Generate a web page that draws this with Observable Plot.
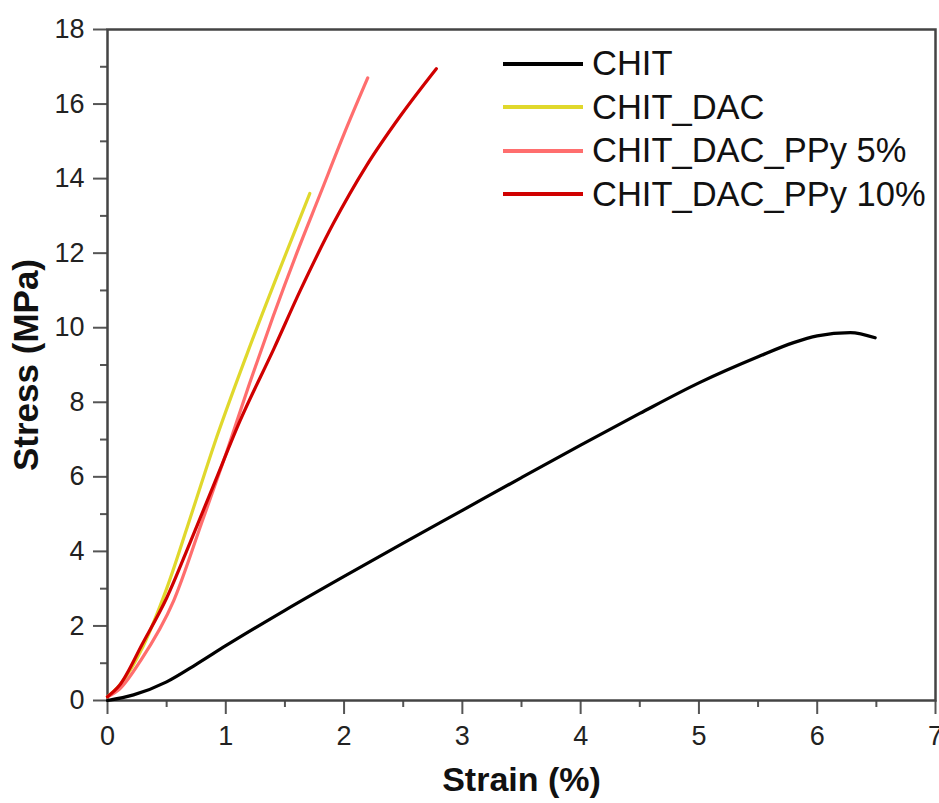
<!DOCTYPE html>
<html>
<head>
<meta charset="utf-8">
<script src="https://cdn.jsdelivr.net/npm/d3@7"></script>
<script src="https://cdn.jsdelivr.net/npm/@observablehq/plot@0.6"></script>
<style>
  body { margin: 0; background: #fff; }
  #wrap { position: relative; width: 939px; height: 803px; font-family: "Liberation Sans", Arial, sans-serif; }
  #legend { position: absolute; left: 503px; top: 42px; }
  .row { display: flex; align-items: center; height: 43.5px; }
  .sw { width: 80px; height: 4px; margin-right: 9px; }
  .lab { font-size: 34.5px; color: #111; white-space: nowrap; }
</style>
</head>
<body>
<div id="wrap"></div>
<script>
const seriesNames = ["CHIT", "CHIT_DAC", "CHIT_DAC_PPy 5%", "CHIT_DAC_PPy 10%"];
const seriesColors = ["#000000", "#e0d82c", "#ff6e6e", "#d00000"];

const chitX = [0, 0.22, 0.5, 0.75, 1.0, 1.5, 2.0, 2.5, 3.0, 3.5, 4.0, 4.5, 5.0, 5.5, 5.8, 6.0, 6.28, 6.49];
const chitY = [0, 0.15, 0.5, 0.97, 1.47, 2.42, 3.33, 4.22, 5.1, 5.98, 6.85, 7.7, 8.52, 9.22, 9.6, 9.78, 9.87, 9.73];

const dacX = [0, 0.1, 0.3, 0.5, 0.72, 0.9, 1.18, 1.46, 1.71];
const dacY = [0.1, 0.4, 1.45, 3.0, 5.1, 6.85, 9.3, 11.6, 13.6];

const ppy5X = [0, 0.1, 0.28, 0.56, 0.8, 1.0, 1.2, 1.4, 1.6, 1.8, 2.0, 2.2];
const ppy5Y = [0.1, 0.3, 1.07, 2.68, 4.8, 6.6, 8.5, 10.3, 12.0, 13.6, 15.2, 16.7];

const ppy10X = [0, 0.1, 0.3, 0.5, 0.7, 0.9, 1.12, 1.41, 1.63, 1.91, 2.19, 2.48, 2.78];
const ppy10Y = [0.1, 0.4, 1.55, 2.75, 4.25, 5.8, 7.5, 9.46, 11.0, 12.8, 14.35, 15.7, 16.95];

const xMajor = [0, 1, 2, 3, 4, 5, 6, 7];
const xMinor = [0.5, 1.5, 2.5, 3.5, 4.5, 5.5, 6.5];
const yMajor = [0, 2, 4, 6, 8, 10, 12, 14, 16, 18];
const yMinor = [1, 3, 5, 7, 9, 11, 13, 15, 17];

const allX = [chitX, dacX, ppy5X, ppy10X];
const allY = [chitY, dacY, ppy5Y, ppy10Y];
const data = [];
seriesNames.forEach((s, i) => {
  allX[i].forEach((x, j) => data.push({series: s, x, y: allY[i][j]}));
});

const plot = Plot.plot({
  width: 939,
  height: 803,
  marginLeft: 107,
  marginRight: 4,
  marginTop: 29,
  marginBottom: 103,
  style: {fontFamily: "'Liberation Sans', Arial, sans-serif", fontSize: "27px", color: "#222", background: "#fff"},
  x: {domain: [0, 7]},
  y: {domain: [0, 18]},
  color: {domain: seriesNames, range: seriesColors},
  marks: [
    Plot.axisX(xMajor, {tickSize: 14, tickPadding: 11, strokeWidth: 2, stroke: "#555", label: null, tickFormat: d => d}),
    Plot.axisX(xMinor, {tickSize: 7, strokeWidth: 2, stroke: "#555", label: null, tickFormat: null, text: null}),
    Plot.axisY(yMajor, {tickSize: 14, tickPadding: 9, strokeWidth: 2, stroke: "#555", label: null, tickFormat: d => d}),
    Plot.axisY(yMinor, {tickSize: 7, strokeWidth: 2, stroke: "#555", label: null, tickFormat: null, text: null}),
    Plot.frame({stroke: "#444", strokeWidth: 2.5}),
    Plot.line(data, {x: "x", y: "y", z: "series", stroke: "series", strokeWidth: 3.2, curve: "monotone-x"}),
    Plot.text(["Strain (%)"], {frameAnchor: "bottom", dy: 90, fontSize: 34, fontWeight: "bold", fill: "#111"}),
    Plot.text(["Stress (MPa)"], {frameAnchor: "left", textAnchor: "middle", dx: -81, rotate: -90, fontSize: 35, fontWeight: "bold", fill: "#111"})
  ]
});

const wrap = document.getElementById("wrap");
wrap.appendChild(plot);
const legend = document.createElement("div");
legend.id = "legend";
seriesNames.forEach((s, i) => {
  const row = document.createElement("div");
  row.className = "row";
  const sw = document.createElement("div");
  sw.className = "sw";
  sw.style.background = seriesColors[i];
  const lab = document.createElement("span");
  lab.className = "lab";
  lab.textContent = s;
  row.appendChild(sw);
  row.appendChild(lab);
  legend.appendChild(row);
});
wrap.appendChild(legend);
</script>
</body>
</html>
